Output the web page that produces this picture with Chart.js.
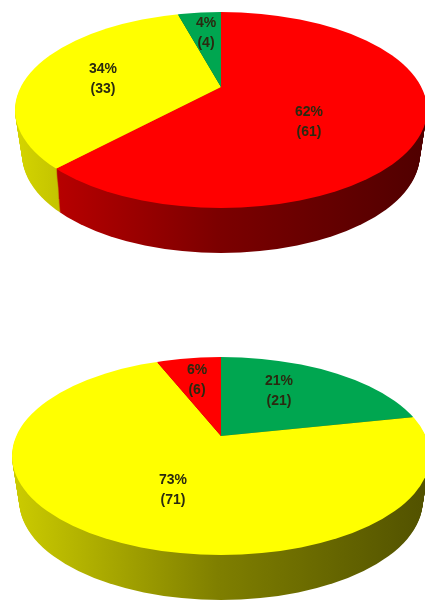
<!DOCTYPE html>
<html>
<head>
<meta charset="utf-8">
<title>Pies</title>
<script src="https://cdn.jsdelivr.net/npm/chart.js@4/dist/chart.umd.js"></script>
<style>
  html, body { margin: 0; padding: 0; background: #fff; }
  #wrap { position: relative; width: 425px; height: 601px; overflow: hidden; }
  canvas { position: absolute; left: 0; filter: blur(0.6px); }
  #c1 { top: 0; }
  #c2 { top: 300px; }
</style>
</head>
<body>
<div id="wrap">
  <canvas id="c1" width="425" height="300"></canvas>
  <canvas id="c2" width="425" height="301"></canvas>
</div>
<script>
const topCounts = [61, 33, 4];
const topPercents = [62, 34, 4];
const topColors = ["#ff0000", "#ffff00", "#00a650"];
const topSides = [[200, 0, 0], [215, 215, 0], [0, 120, 60]];

const bottomCounts = [21, 71, 6];
const bottomPercents = [21, 73, 6];
const bottomColors = ["#00a650", "#ffff00", "#ff0000"];
const bottomSides = [[0, 120, 60], [205, 205, 0], [200, 0, 0]];

// hand placed label centres, one per slice
const topLabelSpots = [[309, 112], [103, 69], [206, 23]];
const bottomLabelSpots = [[279, 81], [173, 180], [197, 70]];

// fake 3d look: the pie is drawn huge and clipped by the ellipse of the top face
const topView = { ax: 221, ay: 87, cx: 221, cy: 110, rx: 206, ry: 98, s: 0.45, h: -0.031, depth: 45 };
const bottomView = { ax: 221, ay: 136, cx: 221, cy: 156, rx: 209, ry: 99, s: 0.465, h: 0.008, depth: 45 };

function shade(rgb, f) {
  return "rgb(" + rgb.map(v => Math.round(v * f)).join(",") + ")";
}

const pie3d = {
  id: "pie3d",
  beforeDatasetsDraw(chart, args, o) {
    const ctx = chart.ctx;
    const v = o.view;
    const arcs = chart.getDatasetMeta(0).data;
    for (let d = v.depth; d >= 1; d--) {
      const shrink = 1 - 0.035 * d / v.depth;
      arcs.forEach((arc, i) => {
        const p = arc.getProps(["x", "y", "startAngle", "endAngle", "outerRadius"]);
        // gradient coords follow the transform below, so they start from the apex
        const g = ctx.createLinearGradient(10 - v.ax, 0, 425 - v.ax, 0);
        g.addColorStop(0, shade(o.sides[i], 1));
        g.addColorStop(0.5, shade(o.sides[i], 0.62));
        g.addColorStop(1, shade(o.sides[i], 0.4));
        ctx.save();
        ctx.beginPath();
        ctx.ellipse(v.cx, v.cy + d, v.rx * shrink, v.ry, 0, 0, Math.PI * 2);
        ctx.clip();
        ctx.transform(1, v.h, 0, v.s, v.ax, v.ay + d);
        ctx.beginPath();
        ctx.moveTo(0, 0);
        ctx.arc(0, 0, p.outerRadius, p.startAngle, p.endAngle);
        ctx.closePath();
        ctx.fillStyle = g;
        ctx.fill();
        ctx.restore();
      });
    }
  },
  beforeDatasetDraw(chart, args, o) {
    const ctx = chart.ctx;
    const v = o.view;
    const arc = chart.getDatasetMeta(0).data[0];
    ctx.save();
    ctx.beginPath();
    ctx.ellipse(v.cx, v.cy, v.rx, v.ry, 0, 0, Math.PI * 2);
    ctx.clip();
    ctx.transform(1, v.h, 0, v.s, v.ax, v.ay);
    ctx.translate(-arc.x, -arc.y);
  },
  afterDatasetDraw(chart) {
    chart.ctx.restore();
  },
  afterDatasetsDraw(chart, args, o) {
    const ctx = chart.ctx;
    ctx.save();
    ctx.font = "bold 14px 'Liberation Sans', Arial, sans-serif";
    ctx.fillStyle = "#2a2a10";
    ctx.textAlign = "center";
    ctx.textBaseline = "middle";
    chart.data.datasets[0].data.forEach((n, i) => {
      const spot = o.spots[i];
      ctx.fillText(o.percents[i] + "%", spot[0], spot[1]);
      ctx.fillText("(" + n + ")", spot[0], spot[1] + 20);
    });
    ctx.restore();
  }
};

function makePie(id, counts, colors, percents, sides, spots, view) {
  return new Chart(document.getElementById(id), {
    type: "pie",
    data: {
      datasets: [{
        data: counts,
        backgroundColor: colors,
        borderWidth: 0,
        radius: 700
      }]
    },
    options: {
      responsive: false,
      animation: false,
      events: [],
      plugins: {
        legend: { display: false },
        tooltip: { enabled: false },
        pie3d: { view: view, sides: sides, spots: spots, percents: percents }
      }
    },
    plugins: [pie3d]
  });
}

makePie("c1", topCounts, topColors, topPercents, topSides, topLabelSpots, topView);
makePie("c2", bottomCounts, bottomColors, bottomPercents, bottomSides, bottomLabelSpots, bottomView);
</script>
</body>
</html>
